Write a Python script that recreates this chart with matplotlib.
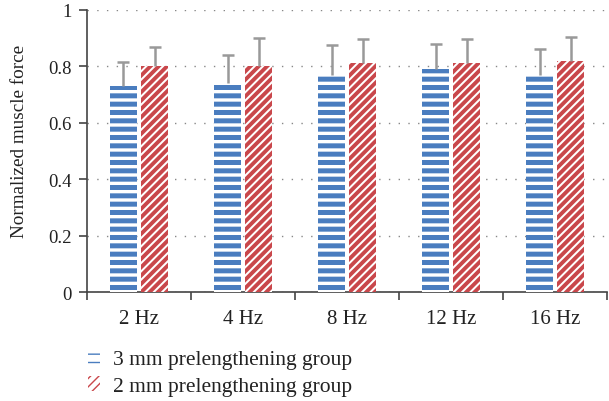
import numpy as np
import matplotlib
matplotlib.use('Agg')
import matplotlib.pyplot as plt

plt.rcParams['font.family'] = ['Liberation Serif', 'DejaVu Serif']

cats = ['2 Hz', '4 Hz', '8 Hz', '12 Hz', '16 Hz']
mm3 = [0.73, 0.74, 0.77, 0.79, 0.77]
mm3_err = [0.085, 0.10, 0.105, 0.09, 0.09]
mm2 = [0.80, 0.80, 0.81, 0.81, 0.82]
mm2_err = [0.07, 0.10, 0.085, 0.087, 0.085]

blue = '#4a7dbf'
red = '#c9474b'
errc = '#999999'

fig = plt.figure(figsize=(6.09, 4.02), dpi=100)
ax = fig.add_axes([0.143, 0.271, 0.854, 0.702])

x = np.arange(len(cats))
w = 0.26
gap = 0.02
xb = x - w/2 - gap
xr = x + w/2 + gap

with plt.rc_context({'hatch.linewidth': 3.6}):
    b1 = ax.bar(xb, mm3, w, color='white', edgecolor=blue, hatch='--', lw=0,
                label='3 mm prelengthening group', zorder=3)
with plt.rc_context({'hatch.linewidth': 2.8}):
    b2 = ax.bar(xr, mm2, w, color='white', edgecolor=red, hatch='////', lw=0,
                label='2 mm prelengthening group', zorder=3)

# upper error bars only
for xs, ys, es in [(xb, mm3, mm3_err), (xr, mm2, mm2_err)]:
    tops = np.array(ys) + np.array(es)
    ax.vlines(xs, ys, tops, color=errc, lw=1.8, zorder=4)
    ax.plot(xs, tops, ls='none', marker='_', ms=9, mew=1.8, color=errc, zorder=4)

ax.set_xlim(-0.5, 4.5)
ax.set_ylim(0, 1)
ax.set_yticks([0, 0.2, 0.4, 0.6, 0.8, 1])
ax.set_yticklabels(['0', '0.2', '0.4', '0.6', '0.8', '1'])
ax.set_xticks(x)
ax.set_xticklabels(cats)
ax.set_xticks(np.arange(-0.5, 5, 1), minor=True)
ax.tick_params(axis='x', which='major', length=0, pad=12, labelsize=15, labelcolor='#222222')
ax.tick_params(axis='x', which='minor', length=6, width=1.2, color='#444444')
ax.tick_params(axis='y', length=6, width=1.2, color='#444444', labelsize=13.5, pad=5,
               labelcolor='#222222')
ax.set_ylabel('Normalized muscle force', fontsize=13.8, color='#222222')
ax.yaxis.set_label_coords(-0.114, 0.537)

ax.grid(axis='y', linestyle=(0, (1, 6)), color='#888888', linewidth=1)
for s in ['top', 'right']:
    ax.spines[s].set_visible(False)
for s in ['left', 'bottom']:
    ax.spines[s].set_color('#444444')
    ax.spines[s].set_linewidth(1.2)

fig.legend(handles=[b1, b2], loc='upper left', bbox_to_anchor=(0.112, 0.177), frameon=False,
           fontsize=15.5, handlelength=0.6, handleheight=0.7, handletextpad=0.6,
           labelspacing=0.33, labelcolor='#222222')

fig.savefig('out.png', dpi=100)
